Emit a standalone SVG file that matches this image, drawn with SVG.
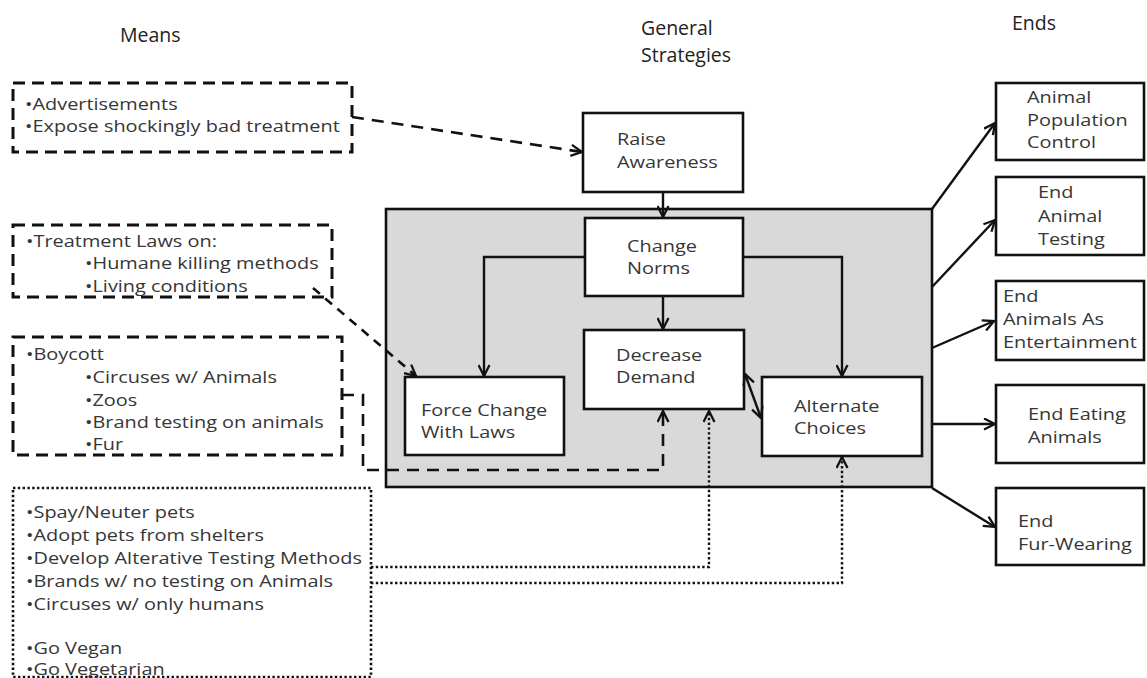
<svg xmlns="http://www.w3.org/2000/svg" width="1147" height="678" viewBox="0 0 1147 678">
  <defs>
    <style>
      .title { font-family: "Open Sans", "Liberation Sans", sans-serif; font-size: 19.5px; fill: #222; }
      .txt { font-family: "Open Sans", "Liberation Sans", sans-serif; font-size: 16px; fill: #363636;
             transform-box: fill-box; transform-origin: 0 0; transform: scale(1.245, 1); }
      .box { fill: #fff; stroke: #111; stroke-width: 2.6; }
      .panel { fill: #d9d9d9; stroke: #111; stroke-width: 2.6; }
      .dashbox { fill: none; stroke: #111; stroke-width: 3; stroke-dasharray: 12 7; }
      .dotbox { fill: none; stroke: #111; stroke-width: 2.6; stroke-dasharray: 2.4 2.4; }
      .link { fill: none; stroke: #111; stroke-width: 2.4; }
      .dash { fill: none; stroke: #111; stroke-width: 2.6; stroke-dasharray: 12 8; }
      .dashs { fill: none; stroke: #111; stroke-width: 2.6; stroke-dasharray: 9 7; }
      .dot { fill: none; stroke: #111; stroke-width: 2.4; stroke-dasharray: 2.4 2.4; }
    </style>
    <marker id="arrow" viewBox="0 0 13 13" refX="12" refY="6.5" markerWidth="13" markerHeight="13" markerUnits="userSpaceOnUse" orient="auto-start-reverse">
      <path d="M1,1 L12,6.5 L1,12" fill="none" stroke="#111" stroke-width="2.3"/>
    </marker>
  </defs>

  <rect width="1147" height="678" fill="#fff"/>

  <!-- column headings -->
  <g id="headings">
    <text class="title" x="120" y="42">Means</text>
    <text class="title" x="641" y="35">General</text>
    <text class="title" x="641" y="62">Strategies</text>
    <text class="title" x="1012" y="30">Ends</text>
  </g>

  <!-- shaded strategy panel -->
  <g id="panel">
    <rect class="panel" x="386" y="209" width="546" height="278"/>
  </g>

  <!-- means -->
  <g id="means-awareness">
    <rect class="dashbox" x="13" y="83" width="339" height="69"/>
    <text class="txt" x="25" y="110">•Advertisements</text>
    <text class="txt" x="25" y="132">•Expose shockingly bad treatment</text>
  </g>
  <g id="means-laws">
    <rect class="dashbox" x="13" y="225" width="319" height="72"/>
    <text class="txt" x="26" y="247">•Treatment Laws on:</text>
    <text class="txt" x="85" y="269">•Humane killing methods</text>
    <text class="txt" x="85" y="292">•Living conditions</text>
  </g>
  <g id="means-boycott">
    <rect class="dashbox" x="13" y="337" width="329" height="118"/>
    <text class="txt" x="26" y="360">•Boycott</text>
    <text class="txt" x="85" y="383">•Circuses w/ Animals</text>
    <text class="txt" x="85" y="406">•Zoos</text>
    <text class="txt" x="85" y="428">•Brand testing on animals</text>
    <text class="txt" x="85" y="450">•Fur</text>
  </g>
  <g id="means-alternatives">
    <rect class="dotbox" x="13" y="488" width="358" height="189"/>
    <text class="txt" x="26" y="518">•Spay/Neuter pets</text>
    <text class="txt" x="26" y="541">•Adopt pets from shelters</text>
    <text class="txt" x="26" y="564">•Develop Alterative Testing Methods</text>
    <text class="txt" x="26" y="587">•Brands w/ no testing on Animals</text>
    <text class="txt" x="26" y="610">•Circuses w/ only humans</text>
    <text class="txt" x="26" y="654">•Go Vegan</text>
    <text class="txt" x="26" y="675">•Go Vegetarian</text>
  </g>

  <!-- general strategies -->
  <g id="raise-awareness">
    <rect class="box" x="583" y="113" width="160" height="79"/>
    <text class="txt" x="617" y="145">Raise</text>
    <text class="txt" x="617" y="168">Awareness</text>
  </g>
  <g id="change-norms">
    <rect class="box" x="585" y="218" width="158" height="78"/>
    <text class="txt" x="627" y="252">Change</text>
    <text class="txt" x="627" y="274">Norms</text>
  </g>
  <g id="decrease-demand">
    <rect class="box" x="584" y="330" width="160" height="79"/>
    <text class="txt" x="616" y="361">Decrease</text>
    <text class="txt" x="616" y="383">Demand</text>
  </g>
  <g id="force-change">
    <rect class="box" x="405" y="377" width="159" height="78"/>
    <text class="txt" x="421" y="416">Force Change</text>
    <text class="txt" x="421" y="438">With Laws</text>
  </g>
  <g id="alternate-choices">
    <rect class="box" x="762" y="377" width="160" height="79"/>
    <text class="txt" x="794" y="412">Alternate</text>
    <text class="txt" x="794" y="434">Choices</text>
  </g>

  <!-- ends -->
  <g id="end-population">
    <rect class="box" x="996" y="83" width="148" height="77"/>
    <text class="txt" x="1027" y="103">Animal</text>
    <text class="txt" x="1027" y="126">Population</text>
    <text class="txt" x="1027" y="148">Control</text>
  </g>
  <g id="end-testing">
    <rect class="box" x="996" y="177" width="148" height="78"/>
    <text class="txt" x="1038" y="198">End</text>
    <text class="txt" x="1038" y="222">Animal</text>
    <text class="txt" x="1038" y="245">Testing</text>
  </g>
  <g id="end-entertainment">
    <rect class="box" x="996" y="281" width="148" height="79"/>
    <text class="txt" x="1003" y="302">End</text>
    <text class="txt" x="1003" y="325">Animals As</text>
    <text class="txt" x="1003" y="348">Entertainment</text>
  </g>
  <g id="end-eating">
    <rect class="box" x="996" y="385" width="148" height="78"/>
    <text class="txt" x="1028" y="420">End Eating</text>
    <text class="txt" x="1028" y="443">Animals</text>
  </g>
  <g id="end-fur">
    <rect class="box" x="996" y="488" width="148" height="77"/>
    <text class="txt" x="1018" y="527">End</text>
    <text class="txt" x="1018" y="550">Fur-Wearing</text>
  </g>

  <!-- connectors -->
  <g id="connectors">
    <!-- solid strategy flow -->
    <path class="link" d="M663,192 V217" marker-end="url(#arrow)"/>
    <path class="link" d="M663,296 V329" marker-end="url(#arrow)"/>
    <path class="link" d="M585,257 H484 V376" marker-end="url(#arrow)"/>
    <path class="link" d="M743,257 H842 V376" marker-end="url(#arrow)"/>
    <path class="link" d="M745,374 L761,418" marker-start="url(#arrow)" marker-end="url(#arrow)"/>

    <!-- panel to ends -->
    <path class="link" d="M932,209 L995,123" marker-end="url(#arrow)"/>
    <path class="link" d="M932,287 L995,220" marker-end="url(#arrow)"/>
    <path class="link" d="M932,348 L994,321" marker-end="url(#arrow)"/>
    <path class="link" d="M932,424 H995" marker-end="url(#arrow)"/>
    <path class="link" d="M932,488 L995,527" marker-end="url(#arrow)"/>

    <!-- dashed means -->
    <path class="dash" d="M352,117 L582,152" marker-end="url(#arrow)"/>
    <path class="dashs" d="M313,288 L416,376" marker-end="url(#arrow)"/>
    <path class="dash" d="M342,395 H363 V470 H663 V411" marker-end="url(#arrow)"/>

    <!-- dotted means -->
    <path class="dot" d="M371,567 H709 V411" marker-end="url(#arrow)"/>
    <path class="dot" d="M371,583 H842 V457" marker-end="url(#arrow)"/>
  </g>
</svg>
